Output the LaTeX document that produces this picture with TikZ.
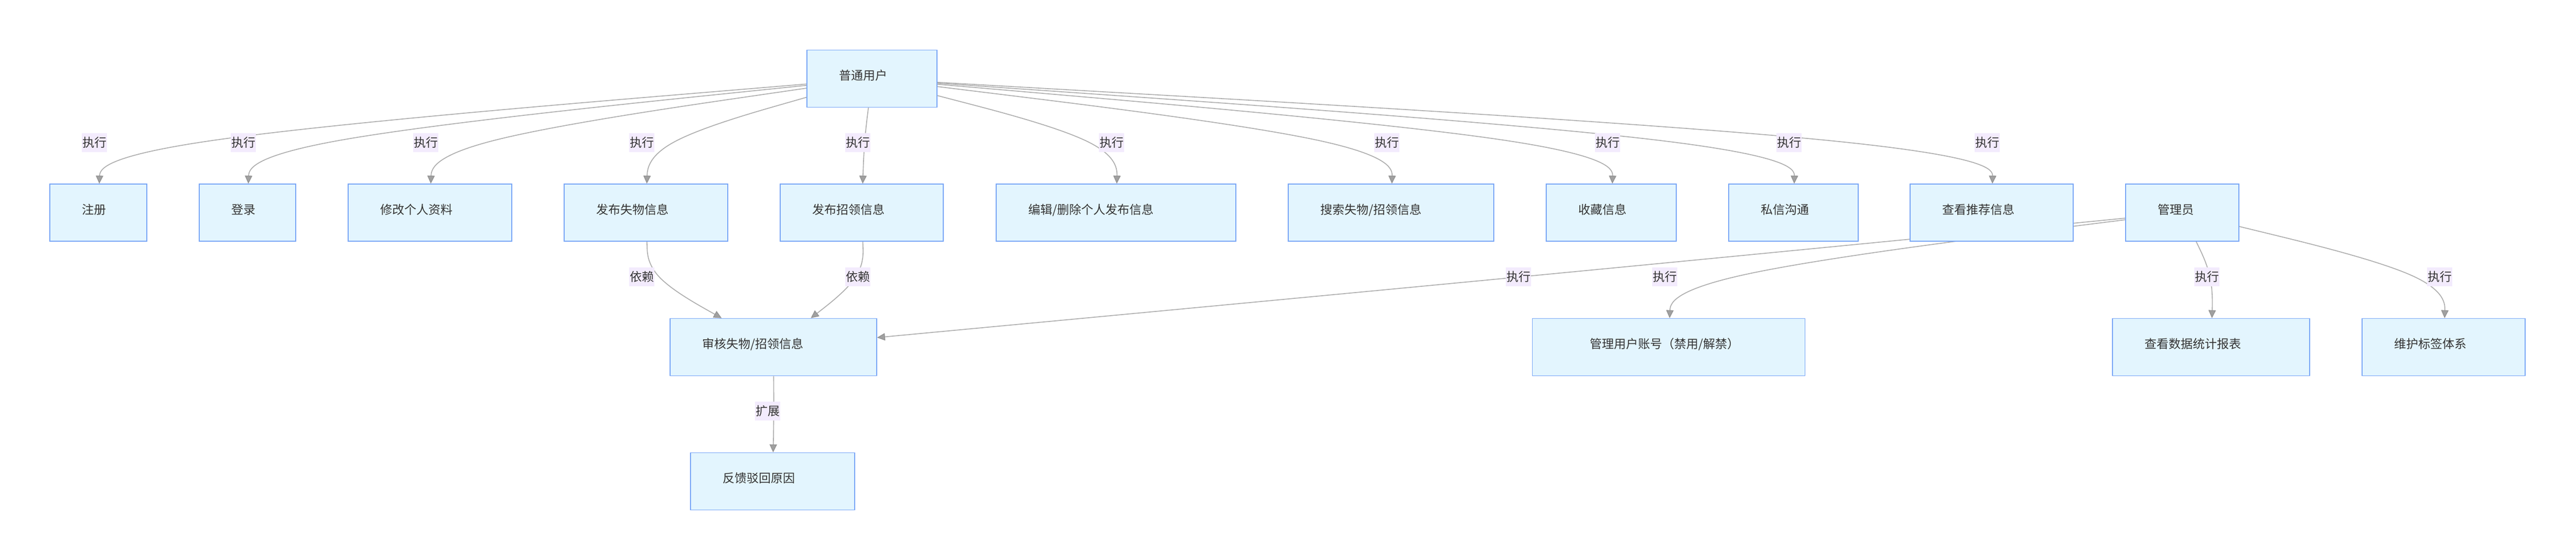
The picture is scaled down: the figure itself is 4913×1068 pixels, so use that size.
\documentclass[tikz,border=0pt]{standalone}
\usepackage{fontspec}
\newfontfamily\cjk{Noto Sans CJK SC}
\usetikzlibrary{arrows.meta,calc}
\definecolor{boxfill}{RGB}{227,245,254}
\definecolor{boxline}{RGB}{121,166,246}
\definecolor{labfill}{RGB}{243,235,253}
\definecolor{txt}{RGB}{51,51,51}
\definecolor{edgecol}{RGB}{171,171,171}
\definecolor{tipfill}{RGB}{160,160,160}
\definecolor{tipline}{RGB}{140,140,140}
\pgfdeclarelayer{bg}\pgfdeclarelayer{edges}\pgfsetlayers{bg,edges,main}
\tikzset{
  box/.style={draw=boxline, fill=boxfill, line width=1.8pt, minimum height=109pt,
    inner ysep=0pt, align=left, text=txt, font=\cjk\fontsize{23}{28}\selectfont,
    text height=8pt, text depth=2.6pt},
  elabel/.style={fill=labfill, inner xsep=1pt, inner ysep=0pt, minimum height=36pt,
    text=txt, font=\cjk\fontsize{23}{28}\selectfont, text height=17.5pt, text depth=0pt},
  edge/.style={draw=edgecol, line width=1.6pt,
    -{Triangle[length=15pt,width=14pt,line width=1pt,fill=tipfill,color=tipline]}}
}
\newcommand\ubox[6][61]{%
  \pgfmathsetmacro\ubw{#5-2*#1}%
  \node[box, inner xsep=#1pt, minimum width=#5pt, text width=\ubw pt] (#2) at (#3,#4) {#6};%
}
\newcommand\bsedge[3]{%
  \path (#1) -- (#2) coordinate[pos=0] (bsA);
  \path (#2) -- (#3) coordinate[pos=1] (bsC);
  \draw[edge] (bsA) -- ($(bsA)!0.1666667!(#2)$)
    .. controls ($(bsA)!0.3333333!(#2)$) and ($(bsA)!0.6666667!(#2)$) ..
    ($0.1666667*(bsA)+0.6666667*(#2)+0.1666667*(bsC)$)
    .. controls ($(#2)!0.3333333!(bsC)$) and ($(#2)!0.6666667!(bsC)$) ..
    ($(#2)!0.8333333!(bsC)$) -- (bsC);
}
\begin{document}
\begin{tikzpicture}[x=1pt,y=-1pt]
\useasboundingbox (0,0) rectangle (4913,1068);
\begin{pgfonlayer}{bg}
\fill[white] (0,0) rectangle (4913,1068);
\end{pgfonlayer}
% nodes
\ubox{user}{1663}{150}{248}{普通用户}
\ubox{reg}{187.5}{405.5}{185}{注册}
\ubox{login}{472}{405.5}{184}{登录}
\ubox{profile}{820}{405.5}{312}{修改个人资料}
\ubox{lost}{1232}{405.5}{312}{发布失物信息}
\ubox{found}{1643.5}{405.5}{311}{发布招领信息}
\ubox{edit}{2128.5}{405.5}{457}{编辑/删除个人发布信息}
\ubox{search}{2653}{405.5}{392}{搜索失物/招领信息}
\ubox{fav}{3073}{405.5}{248}{收藏信息}
\ubox{msg}{3420.5}{405.5}{247}{私信沟通}
\ubox{rec}{3798.5}{405.5}{311}{查看推荐信息}
\ubox{admin}{4162}{405.5}{216}{管理员}
\ubox{audit}{1475}{662}{394}{审核失物/招领信息}
\ubox[110]{manage}{3182.5}{662}{520}{管理用户账号（禁用/解禁）}
\ubox{stats}{4217}{662}{376}{查看数据统计报表}
\ubox{tags}{4660.5}{662}{311}{维护标签体系}
\ubox{reason}{1473.5}{918}{313}{反馈驳回原因}
% edge bend points
\coordinate (m1) at (192,272);
\coordinate (m2) at (476,272);
\coordinate (m3) at (824,272);
\coordinate (m4) at (1236,272);
\coordinate (m5) at (1648,272);
\coordinate (m6) at (2132,272);
\coordinate (m7) at (2657,272);
\coordinate (m8) at (3078,272);
\coordinate (m9) at (3424,272);
\coordinate (m10) at (3802,272);
\coordinate (n1) at (1236,528);
\coordinate (n2) at (1648,528);
\coordinate (n3) at (2908,528);
\coordinate (n4) at (3187,528);
\coordinate (n5) at (4221,528);
\coordinate (n6) at (4665,528);
\coordinate (k1) at (1476,784);
\begin{pgfonlayer}{edges}
\bsedge{user}{m1}{reg}
\bsedge{user}{m2}{login}
\bsedge{user}{m3}{profile}
\bsedge{user}{m4}{lost}
\bsedge{user}{m5}{found}
\bsedge{user}{m6}{edit}
\bsedge{user}{m7}{search}
\bsedge{user}{m8}{fav}
\bsedge{user}{m9}{msg}
\bsedge{user}{m10}{rec}
\bsedge{lost}{n1}{audit}
\bsedge{found}{n2}{audit}
\bsedge{admin}{n3}{audit}
\bsedge{admin}{n4}{manage}
\bsedge{admin}{n5}{stats}
\bsedge{admin}{n6}{tags}
\bsedge{audit}{k1}{reason}
\end{pgfonlayer}
% edge labels
\node[elabel] (l1) at ([xshift=-12pt]m1) {执行};
\node[elabel] (l2) at ([xshift=-12pt]m2) {执行};
\node[elabel] (l3) at ([xshift=-12pt]m3) {执行};
\node[elabel] (l4) at ([xshift=-12pt]m4) {执行};
\node[elabel] (l5) at ([xshift=-12pt]m5) {执行};
\node[elabel] (l6) at ([xshift=-12pt]m6) {执行};
\node[elabel] (l7) at ([xshift=-12pt]m7) {执行};
\node[elabel] (l8) at ([xshift=-12pt]m8) {执行};
\node[elabel] (l9) at ([xshift=-12pt]m9) {执行};
\node[elabel] (l10) at ([xshift=-12pt]m10) {执行};
\node[elabel] (p1) at ([xshift=-12pt]n1) {依赖};
\node[elabel] (p2) at ([xshift=-12pt]n2) {依赖};
\node[elabel] (p3) at ([xshift=-12pt]n3) {执行};
\node[elabel] (p4) at ([xshift=-12pt]n4) {执行};
\node[elabel] (p5) at ([xshift=-12pt]n5) {执行};
\node[elabel] (p6) at ([xshift=-12pt]n6) {执行};
\node[elabel] (q1) at ([xshift=-12pt]k1) {扩展};
\end{tikzpicture}
\end{document}
